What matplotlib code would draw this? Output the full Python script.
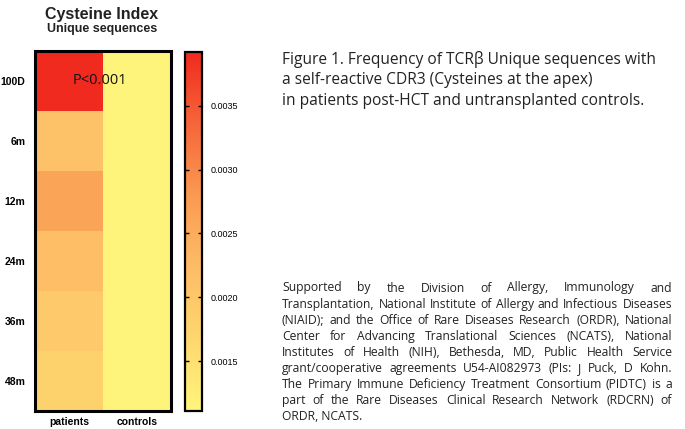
import numpy as np
import matplotlib
matplotlib.use('Agg')
import matplotlib.pyplot as plt
from matplotlib.colors import LinearSegmentedColormap

rows = ['100D', '6m', '12m', '24m', '36m', '48m']
cols = ['patients', 'controls']
patients = [0.00392, 0.00210, 0.00262, 0.00218, 0.00195, 0.00178]
controls = [0.00114, 0.00114, 0.00114, 0.00114, 0.00114, 0.00114]
cbar_ticks = [0.0015, 0.0020, 0.0025, 0.0030, 0.0035]
vmin, vmax = 0.00111, 0.00392

caption = ['Figure 1. Frequency of TCR\u03b2 Unique sequences with',
           'a self-reactive CDR3 (Cysteines at the apex)',
           'in patients post-HCT and untransplanted controls.']
support_lines = [
    'Supported by the Division of Allergy, Immunology and',
    'Transplantation, National Institute of Allergy and Infectious Diseases',
    '(NIAID); and the Office of Rare Diseases Research (ORDR), National',
    'Center for Advancing Translational Sciences (NCATS), National',
    'Institutes of Health (NIH), Bethesda, MD, Public Health Service',
    'grant/cooperative agreements U54-AI082973 (PIs: J Puck, D Kohn.',
    'The Primary Immune Deficiency Treatment Consortium (PIDTC) is a',
    'part of the Rare Diseases Clinical Research Network (RDCRN) of',
    'ORDR, NCATS.']

cmap = LinearSegmentedColormap.from_list(
    'cys', ['#fff67c', '#fed76e', '#fdbc66', '#fa9a52', '#f6663a', '#f02a1e'])

W, H = 685, 429
fig = plt.figure(figsize=(W / 100, H / 100), dpi=100)

def box(x0, y0, x1, y1):
    return [x0 / W, 1 - y1 / H, (x1 - x0) / W, (y1 - y0) / H]

data = np.array([patients, controls]).T
ax = fig.add_axes(box(35, 51, 171, 411))
im = ax.imshow(data, cmap=cmap, vmin=vmin, vmax=vmax, aspect='auto',
               interpolation='nearest')
ax.set_xticks(range(len(cols)))
ax.set_xticklabels(cols, fontsize=7.5, fontweight='bold', family='Liberation Sans')
ax.set_yticks(range(len(rows)))
ax.set_yticklabels(rows, fontsize=7.5, fontweight='bold', family='Liberation Sans')
ax.tick_params(axis='y', length=0, pad=7)
ax.tick_params(axis='x', length=0, pad=4)
for s in ax.spines.values():
    s.set_linewidth(2.2)
ax.text(0.45, 0, 'P<0.001', fontsize=10.5, ha='center', va='center',
        family='Open Sans', color='#111111')

cax = fig.add_axes(box(185, 52, 202, 411))
cb = fig.colorbar(im, cax=cax, ticks=cbar_ticks)
cb.ax.set_yticklabels(['%.4f' % t for t in cbar_ticks], fontsize=6.5,
                      family='Liberation Sans')
cb.ax.tick_params(direction='in', length=3, width=1, left=True, right=True, pad=6)
cb.outline.set_linewidth(1.6)

fig.text(102 / W, 1 - 15 / H, 'Cysteine Index', fontsize=11.5, fontweight='bold',
         ha='center', va='center', family='Liberation Sans', color='#222222')
fig.text(102 / W, 1 - 29 / H, 'Unique sequences', fontsize=9, fontweight='bold',
         ha='center', va='center', family='Liberation Sans', color='#222222')

fig.canvas.draw()
r = fig.canvas.get_renderer()

# caption, sized so the first line spans the right panel
x_left, x_right = 282, 672
cap_texts = []
for i, line in enumerate(caption):
    cap_texts.append(fig.text(282 / W, 1 - (60 + 20.5 * i) / H, line, fontsize=10,
                              family='Open Sans', ha='left', va='center',
                              color='#222222'))
w0 = cap_texts[0].get_window_extent(renderer=r).width
for t in cap_texts:
    t.set_fontsize(10 * (x_right - 14 - x_left) / w0)

# justified paragraph: size so the widest line fits, then place words one by one
probe = [fig.text(0, 0, l, fontsize=8, family='Open Sans') for l in support_lines]
widest = max(p.get_window_extent(renderer=r).width for p in probe)
for p in probe:
    p.remove()
fs = 8 * (x_right - x_left - 2) / widest
for i, line in enumerate(support_lines):
    y = 1 - (288 + 16.1 * i) / H
    words = line.split(' ')
    if i == len(support_lines) - 1:
        fig.text(x_left / W, y, line, fontsize=fs, family='Open Sans', ha='left',
                 va='center', color='#222222')
        continue
    ts = [fig.text(0, y, w, fontsize=fs, family='Open Sans', ha='left', va='center',
                   color='#222222') for w in words]
    widths = [t.get_window_extent(renderer=r).width for t in ts]
    gap = (x_right - x_left - sum(widths)) / max(len(words) - 1, 1)
    x = x_left
    for t, w in zip(ts, widths):
        t.set_x(x / W)
        x += w + gap

fig.savefig('out.png', dpi=100)
